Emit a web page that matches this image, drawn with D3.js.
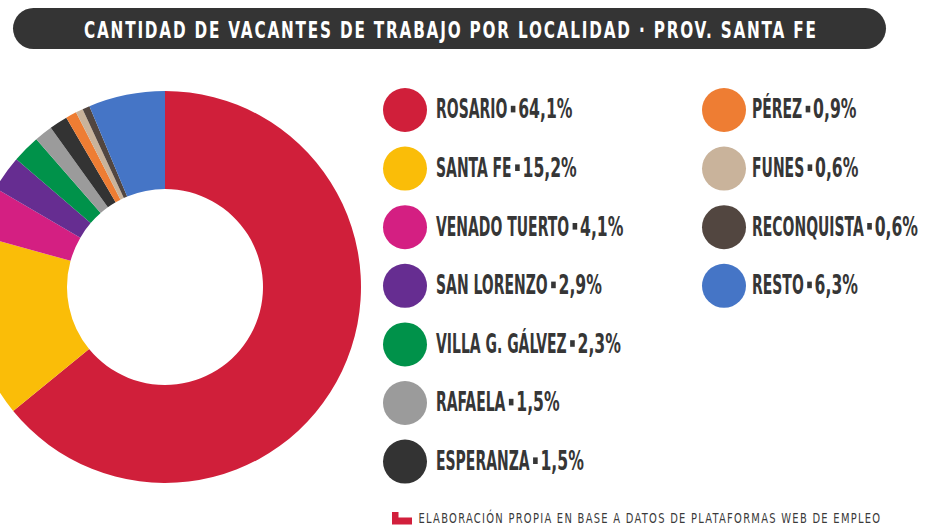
<!DOCTYPE html>
<html><head><meta charset="utf-8">
<script src="https://cdn.jsdelivr.net/npm/d3@7"></script>
<style>
html,body{margin:0;padding:0;background:#fff;}
svg{display:block;}
</style></head>
<body>
<svg id="chart" width="927" height="527"></svg>
<script>
const titleText = "CANTIDAD DE VACANTES DE TRABAJO POR LOCALIDAD · PROV. SANTA FE";
const sourceText = "ELABORACIÓN PROPIA EN BASE A DATOS DE PLATAFORMAS WEB DE EMPLEO";
const localidades = ["ROSARIO","SANTA FE","VENADO TUERTO","SAN LORENZO","VILLA G. GÁLVEZ","RAFAELA","ESPERANZA","PÉREZ","FUNES","RECONQUISTA","RESTO"];
const porcentajes = [64.1,15.2,4.1,2.9,2.3,1.5,1.5,0.9,0.6,0.6,6.3];
const colores = ["#d01f3a","#fabd08","#d41f82","#662d91","#00924a","#9b9b9b","#333333","#ee7d33","#c9b39b","#524640","#4575c6"];

const svg = d3.select("#chart");
const FONT = "'DejaVu Sans Condensed','DejaVu Sans',sans-serif";

// fits a text element horizontally into [x0, x0+width]
function fitText(sel, x0, width){
  const w = sel.node().getComputedTextLength();
  sel.attr("x",0).attr("transform",`translate(${x0},0) scale(${width/w},1)`);
}

// title bar
svg.append("rect").attr("x",13).attr("y",8).attr("width",873).attr("height",41)
  .attr("rx",20.5).attr("fill","#343434");
const title = svg.append("text").attr("y",38.3).attr("fill","#fff")
  .style("font-family",FONT).style("font-weight","bold").style("font-size","23.5px")
  .style("font-stretch","condensed").style("letter-spacing","2.5px").text(titleText);
fitText(title, 84, 734);

// donut
const cx = 165, cy = 287, rOut = 196, rIn = 98;
const data = localidades.map((d,i)=>({name:d,value:porcentajes[i]}));
const color = d3.scaleOrdinal().domain(localidades).range(colores);
const pie = d3.pie().value(d=>d.value).sort(null);
const arc = d3.arc().innerRadius(rIn).outerRadius(rOut);
svg.append("g").attr("transform",`translate(${cx},${cy})`)
  .selectAll("path").data(pie(data)).join("path")
  .attr("d",arc).attr("fill",d=>color(d.data.name));

// legend
const fmt = v => d3.format(".1f")(v).replace(".",",");
const col1 = data.slice(0,7), col2 = data.slice(7);
const rowY = d3.scaleLinear().domain([0,1]).range([110,168.6]);
const legendStyle = s => s.attr("fill","#363636").style("font-family",FONT)
  .style("font-weight","bold").style("font-size","25.8px").style("font-stretch","condensed");
// horizontal condensing factors calibrated on a few reference label widths
function calib(str, target){
  const p = legendStyle(svg.append("text")).text(str);
  const k = target / p.node().getComputedTextLength();
  p.remove();
  return k;
}
const SX = calib("ROSARIOVENADO TUERTORECONQUISTA", 316);
const SXV = calib("64,1%4,1%0,6%", 141);

function legend(items, circleX, textX){
  items.forEach((d,i)=>{
    const y = rowY(i);
    const g = svg.append("g").attr("transform",`translate(0,${y})`);
    g.append("circle").attr("cx",circleX).attr("r",22).attr("fill",color(d.name));
    const name = legendStyle(g.append("text")).attr("y",8.3).text(d.name);
    const nw = name.node().getComputedTextLength()*SX;
    name.attr("transform",`translate(${textX},0) scale(${SX},1)`);
    g.append("rect").attr("x",textX+nw+3.4).attr("y",-4.2).attr("width",4.6).attr("height",6.6).attr("fill","#363636");
    const val = legendStyle(g.append("text")).attr("y",8.3).text(fmt(d.value)+"%");
    val.attr("transform",`translate(${textX+nw+10.8},0) scale(${SXV},1)`);
  });
}
legend(col1,405,436);
legend(col2,724,752);

// footer
svg.append("path").attr("d","M392,512 H398.5 V517.5 H412 V524.5 H392 Z").attr("fill","#d21f3c");
const src = svg.append("text").attr("y",523.3)
  .attr("fill","#3a3a3a").style("font-family",FONT).style("font-size","13.7px")
  .style("font-stretch","condensed").style("letter-spacing","1.6px").text(sourceText);
fitText(src, 418.5, 463);
</script>
</body></html>
